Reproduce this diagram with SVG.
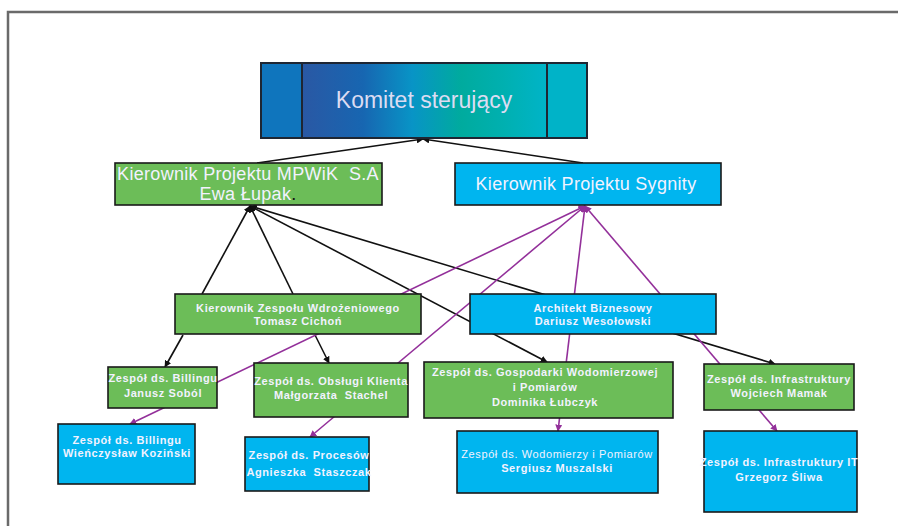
<svg xmlns="http://www.w3.org/2000/svg" width="898" height="526" viewBox="0 0 898 526">
<defs>
<linearGradient id="kg" x1="302" y1="0" x2="547" y2="0" gradientUnits="userSpaceOnUse">
<stop offset="0" stop-color="#2a58a4"/>
<stop offset="0.25" stop-color="#1766b1"/>
<stop offset="0.45" stop-color="#0894c6"/>
<stop offset="0.65" stop-color="#00ab9e"/>
<stop offset="0.82" stop-color="#00b0b0"/>
<stop offset="1" stop-color="#00b4c8"/>
</linearGradient>
<marker id="ab" viewBox="0 0 10 10" refX="9" refY="5" markerWidth="7" markerHeight="7" markerUnits="userSpaceOnUse" orient="auto-start-reverse">
<path d="M0,0 L10,5 L0,10 z" fill="#111"/>
</marker>
<marker id="ap" viewBox="0 0 10 10" refX="9" refY="5" markerWidth="7" markerHeight="7" markerUnits="userSpaceOnUse" orient="auto-start-reverse">
<path d="M0,0 L10,5 L0,10 z" fill="#93309a"/>
</marker>
</defs>
<style>
.frame{fill:#fff;stroke:#6a6a6a;stroke-width:2.5}
.g{fill:#6cbd58;stroke:#1a1a1a;stroke-width:1.6}
.c{fill:#00b5ef;stroke:#1a1a1a;stroke-width:1.6}
.t{font-family:"Liberation Sans",Arial,sans-serif;fill:#f2f2ff;text-anchor:middle}
.big{font-size:18px;letter-spacing:0.3px}
.sm{font-size:11px;font-weight:bold;letter-spacing:0.6px}
.bl{stroke:#111;stroke-width:1.6;fill:none}
.pl{stroke:#93309a;stroke-width:1.6;fill:none}
</style>
<rect class="frame" x="8" y="12" width="900" height="530"/>

<g id="connectors">
<line class="bl" x1="423" y1="139" x2="257" y2="163" marker-start="url(#ab)"/>
<line class="bl" x1="423" y1="139" x2="583" y2="163" marker-start="url(#ab)"/>
<line class="bl" x1="250" y1="206" x2="202" y2="294" marker-start="url(#ab)"/>
<line class="bl" x1="250" y1="206" x2="293" y2="294" marker-start="url(#ab)"/>
<line class="bl" x1="250" y1="206" x2="547" y2="362" marker-start="url(#ab)" marker-end="url(#ab)"/>
<line class="bl" x1="250" y1="206" x2="775" y2="364" marker-start="url(#ab)" marker-end="url(#ab)"/>
<line class="bl" x1="183" y1="335" x2="165" y2="367" marker-end="url(#ab)"/>
<line class="bl" x1="315" y1="335" x2="329" y2="363" marker-end="url(#ab)"/>
<line class="pl" x1="585" y1="206" x2="130" y2="424" marker-start="url(#ap)" marker-end="url(#ap)"/>
<line class="pl" x1="585" y1="206" x2="310" y2="437" marker-start="url(#ap)" marker-end="url(#ap)"/>
<line class="pl" x1="585" y1="206" x2="558" y2="431" marker-start="url(#ap)" marker-end="url(#ap)"/>
<line class="pl" x1="585" y1="206" x2="777" y2="431" marker-start="url(#ap)" marker-end="url(#ap)"/>
</g>

<g id="komitet">
<rect x="261" y="63" width="326" height="75" fill="url(#kg)"/>
<rect x="261" y="63" width="41" height="75" fill="#0f75bd"/>
<rect x="547" y="63" width="40" height="75" fill="#00b3c8"/>
<rect x="261" y="63" width="326" height="75" fill="none" stroke="#1e2633" stroke-width="2"/>
<line x1="302" y1="63" x2="302" y2="138" stroke="#1e2633" stroke-width="2"/>
<line x1="547" y1="63" x2="547" y2="138" stroke="#1e2633" stroke-width="2"/>
<text class="t" x="424" y="108" style="font-size:23px;fill:#dcdcf2">Komitet sterujący</text>
</g>

<g id="mpwik">
<rect class="g" x="115" y="163" width="267" height="42"/>
<text class="t big" x="248" y="180" xml:space="preserve">Kierownik Projektu MPWiK  S.A</text>
<text class="t big" x="248" y="200">Ewa Łupak<tspan fill="#111">.</tspan></text>
</g>

<g id="sygnity">
<rect class="c" x="455" y="163" width="266" height="42"/>
<text class="t big" x="586" y="190">Kierownik Projektu Sygnity</text>
</g>

<g id="kzw">
<rect class="g" x="175" y="294" width="246" height="40"/>
<text class="t sm" x="298" y="312">Kierownik Zespołu Wdrożeniowego</text>
<text class="t sm" x="298" y="325">Tomasz Cichoń</text>
</g>

<g id="architekt">
<rect class="c" x="470" y="294" width="246" height="40"/>
<text class="t sm" x="593" y="312">Architekt Biznesowy</text>
<text class="t sm" x="593" y="325">Dariusz Wesołowski</text>
</g>

<g id="billing-g">
<rect class="g" x="108" y="367" width="109" height="41"/>
<text class="t sm" x="163" y="382">Zespół ds. Billingu</text>
<text class="t sm" x="163" y="397">Janusz Soból</text>
</g>

<g id="obslugi">
<rect class="g" x="254" y="363" width="154" height="54"/>
<text class="t sm" x="331" y="385">Zespół ds. Obsługi Klienta</text>
<text class="t sm" x="331" y="399" xml:space="preserve">Małgorzata  Stachel</text>
</g>

<g id="gospodarki">
<rect class="g" x="424" y="362" width="249" height="56"/>
<text class="t sm" x="545" y="376">Zespół ds. Gospodarki Wodomierzowej</text>
<text class="t sm" x="545" y="391">i Pomiarów</text>
<text class="t sm" x="545" y="406">Dominika Łubczyk</text>
</g>

<g id="infra-g">
<rect class="g" x="704" y="364" width="150" height="46"/>
<text class="t sm" x="779" y="383">Zespół ds. Infrastruktury</text>
<text class="t sm" x="779" y="397">Wojciech Mamak</text>
</g>

<g id="billing-c">
<rect class="c" x="58" y="424" width="137" height="60"/>
<text class="t sm" x="127" y="444">Zespół ds. Billingu</text>
<text class="t sm" x="127" y="457">Wieńczysław Koziński</text>
</g>

<g id="procesow">
<rect class="c" x="245" y="437" width="124" height="54"/>
<text class="t sm" x="309" y="459">Zespół ds. Procesów</text>
<text class="t sm" x="309" y="476" xml:space="preserve">Agnieszka  Staszczak</text>
</g>

<g id="wodomierzy">
<rect class="c" x="457" y="431" width="201" height="62"/>
<text class="t sm" x="557" y="458" style="font-weight:normal">Zespół ds. Wodomierzy i Pomiarów</text>
<text class="t sm" x="557" y="472">Sergiusz Muszalski</text>
</g>

<g id="infra-c">
<rect class="c" x="704" y="431" width="153" height="81"/>
<text class="t sm" x="779" y="466">Zespół ds. Infrastruktury IT</text>
<text class="t sm" x="779" y="481">Grzegorz Śliwa</text>
</g>
</svg>
